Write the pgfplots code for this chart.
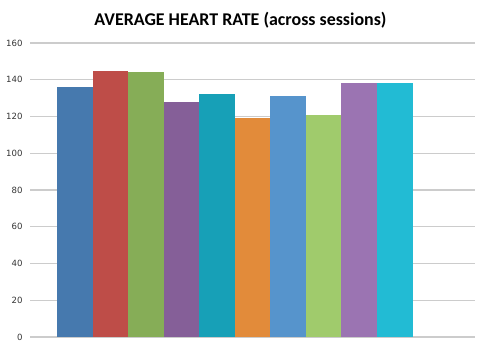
\documentclass[border=0pt]{standalone}
\usepackage{pgfplots}
\pgfplotsset{compat=1.18}
\usepackage{fontspec}
\setmainfont{Carlito}
\newfontfamily\tickfont{DejaVu Sans}
\definecolor{c1}{HTML}{4679AE}
\definecolor{c2}{HTML}{BE4D48}
\definecolor{c3}{HTML}{86AD57}
\definecolor{c4}{HTML}{855F98}
\definecolor{c5}{HTML}{17A0B7}
\definecolor{c6}{HTML}{E28B3A}
\definecolor{c7}{HTML}{5694CC}
\definecolor{c8}{HTML}{A0CB6C}
\definecolor{c9}{HTML}{9B74B2}
\definecolor{c10}{HTML}{22BBD4}
\definecolor{gridc}{HTML}{CCCCCC}
\begin{document}
\begin{tikzpicture}
\path[use as bounding box] (0,0) rectangle (480bp,345bp);
\begin{axis}[
  at={(30bp,8bp)}, anchor=south west,
  scale only axis, width=445bp, height=294bp,
  xmin=-1.258, xmax=11.258, ymin=0, ymax=160,
  ytick={0,20,...,160}, xtick=\empty,
  axis line style={draw=none},
  ymajorgrids, grid style={gridc, line width=1.3bp},
  major tick length=0pt,
  yticklabel style={font=\tickfont\fontsize{8.6}{10}\selectfont, text=black!80, xshift=-4bp},
  /pgf/number format/assume math mode=true,
  ybar, bar width=1, bar shift=0pt,
  every axis plot/.append style={draw=none},
  clip=false,
]
\addplot[fill=c1] coordinates {(0,136)};
\addplot[fill=c2] coordinates {(1,145)};
\addplot[fill=c3] coordinates {(2,144)};
\addplot[fill=c4] coordinates {(3,128)};
\addplot[fill=c5] coordinates {(4,132)};
\addplot[fill=c6] coordinates {(5,119)};
\addplot[fill=c7] coordinates {(6,131)};
\addplot[fill=c8] coordinates {(7,121)};
\addplot[fill=c9] coordinates {(8,138)};
\addplot[fill=c10] coordinates {(9,138)};
\end{axis}
\node[font=\fontsize{18}{21}\selectfont\bfseries] at (240.5bp,325bp) {AVERAGE HEART RATE (across sessions)};
\end{tikzpicture}
\end{document}
